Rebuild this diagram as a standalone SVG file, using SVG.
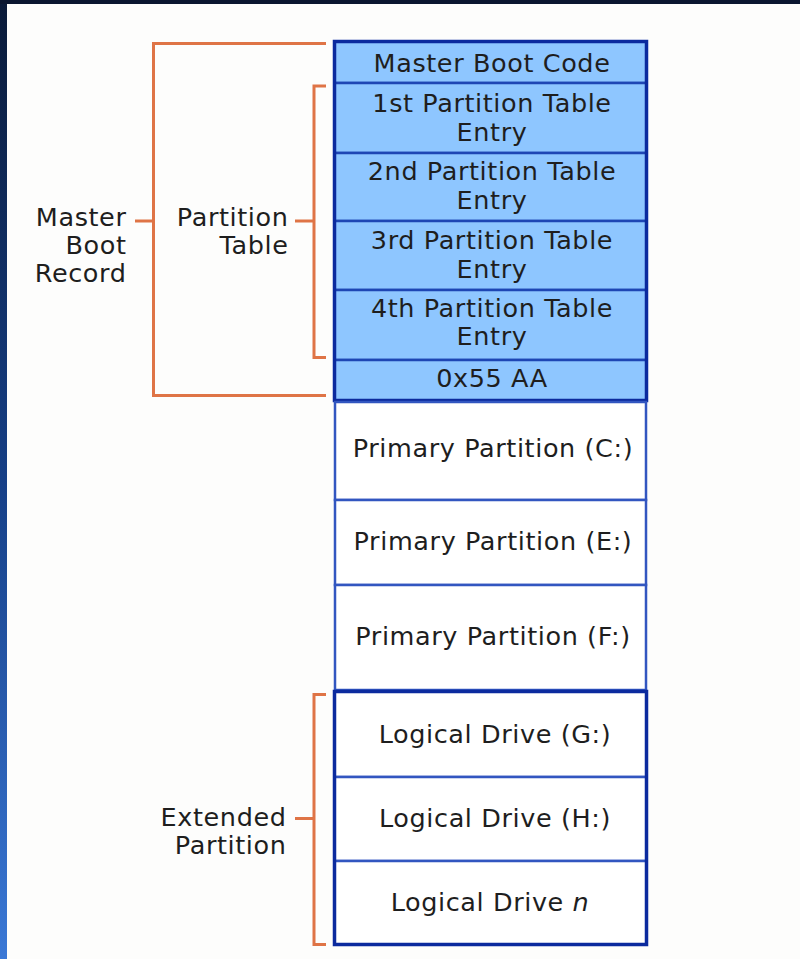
<svg xmlns="http://www.w3.org/2000/svg" width="800" height="959" viewBox="0 0 800 959">
<defs>
<linearGradient id="side" x1="0" y1="0" x2="0" y2="1">
<stop offset="0" stop-color="#0a1a38"/>
<stop offset="0.5" stop-color="#163f86"/>
<stop offset="1" stop-color="#3a78d6"/>
</linearGradient>
<style>
.t{font-family:"DejaVu Sans","Verdana",sans-serif;font-size:25.5px;fill:#1e1e1e;letter-spacing:0.6px;}
.c{text-anchor:middle;}
.r{text-anchor:end;}
.blue{fill:#8ec6ff;stroke:#1e46b4;stroke-width:2.5;}
.white{fill:#ffffff;stroke:#3256c0;stroke-width:2.5;}
.thick{fill:none;stroke:#0b2a9e;stroke-width:3.5;}
.br{fill:none;stroke:#df7446;stroke-width:3;}
</style>
</defs>
<rect x="0" y="0" width="800" height="959" fill="#fdfdfc"/>
<rect x="0" y="0" width="7" height="959" fill="url(#side)"/>
<rect x="0" y="0" width="800" height="4" fill="#0a1630"/>

<g id="mbc"><rect class="blue" x="334.5" y="41.5" width="312" height="41.5"/><text class="t c" x="492" y="72">Master Boot Code</text></g>
<g id="pte1"><rect class="blue" x="334.5" y="83" width="312" height="70"/><text class="t c" x="492" y="112">1st Partition Table</text><text class="t c" x="492" y="141">Entry</text></g>
<g id="pte2"><rect class="blue" x="334.5" y="153" width="312" height="68"/><text class="t c" x="492" y="180">2nd Partition Table</text><text class="t c" x="492" y="209">Entry</text></g>
<g id="pte3"><rect class="blue" x="334.5" y="221" width="312" height="69"/><text class="t c" x="492" y="249">3rd Partition Table</text><text class="t c" x="492" y="278">Entry</text></g>
<g id="pte4"><rect class="blue" x="334.5" y="290" width="312" height="70"/><text class="t c" x="492" y="317">4th Partition Table</text><text class="t c" x="492" y="345">Entry</text></g>
<g id="sig"><rect class="blue" x="334.5" y="360" width="312" height="40.5"/><text class="t c" x="492" y="387">0x55 AA</text></g>
<rect class="thick" x="334.5" y="41.5" width="312" height="359"/>

<g id="primC"><rect class="white" x="335" y="402" width="311" height="98"/><text class="t c" x="493" y="457">Primary Partition (C:)</text></g>
<g id="primE"><rect class="white" x="335" y="500" width="311" height="85"/><text class="t c" x="493" y="550">Primary Partition (E:)</text></g>
<g id="primF"><rect class="white" x="335" y="585" width="311" height="105"/><text class="t c" x="493" y="645">Primary Partition (F:)</text></g>

<g id="logG"><rect class="white" x="334.5" y="691.5" width="312" height="85.5"/><text class="t c" x="495" y="743">Logical Drive (G:)</text></g>
<g id="logH"><rect class="white" x="334.5" y="777" width="312" height="84"/><text class="t c" x="495" y="827">Logical Drive (H:)</text></g>
<g id="logN"><rect class="white" x="334.5" y="861" width="312" height="83.5"/><text class="t c" x="490" y="911">Logical Drive <tspan font-style="italic">n</tspan></text></g>
<rect class="thick" x="334.5" y="691.5" width="312" height="253"/>

<g id="connectors">
<path class="br" d="M326,43.5 H153.5 V395.5 H326"/>
<path class="br" d="M135,221 H153.5"/>
<path class="br" d="M326,86 H314 V357.5 H326"/>
<path class="br" d="M295,221 H314"/>
<path class="br" d="M326,694.5 H314 V944.5 H326"/>
<path class="br" d="M295,818.5 H314"/>
</g>

<g id="lbl-mbr"><text class="t r" x="126.5" y="226">Master</text><text class="t r" x="126.5" y="254">Boot</text><text class="t r" x="126.5" y="282">Record</text></g>
<g id="lbl-pt"><text class="t r" x="288.5" y="226">Partition</text><text class="t r" x="288.5" y="254">Table</text></g>
<g id="lbl-ext"><text class="t r" x="286.5" y="826">Extended</text><text class="t r" x="286.5" y="854">Partition</text></g>
</svg>
